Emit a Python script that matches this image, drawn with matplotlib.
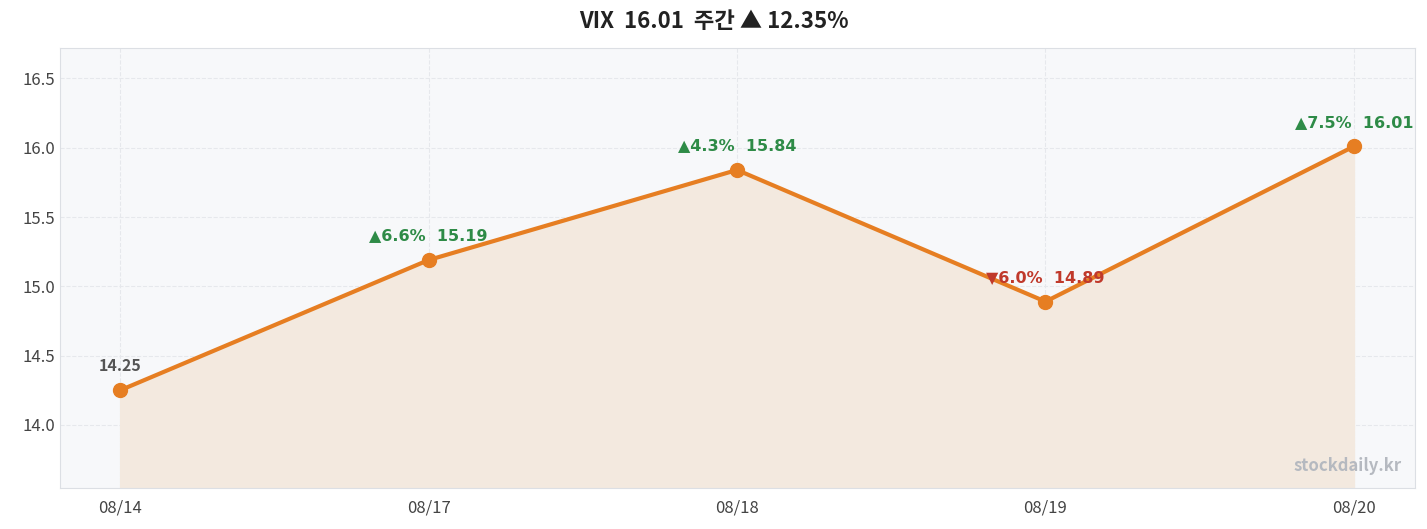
import matplotlib
matplotlib.use("Agg")
import matplotlib.pyplot as plt

plt.rcParams['font.family'] = ['Noto Sans CJK KR', 'DejaVu Sans']

dates = ["08/14", "08/17", "08/18", "08/19", "08/20"]
values = [14.25, 15.19, 15.84, 14.89, 16.01]
changes = [None, 6.6, 4.3, -6.0, 7.5]
title = "VIX  16.01  주간 ▲ 12.35%"

fig = plt.figure(figsize=(14.27, 5.29), dpi=100)
ax = fig.add_axes([60/1427, 1-488/529, 1355/1427, 440/529])
ax.set_facecolor("#f7f8fa")
x = list(range(len(values)))
ymin = 13.545
ax.fill_between(x, values, ymin, color="#f3e9df", zorder=1)
ax.plot(x, values, color="#e67e22", lw=3, marker="o", ms=10, zorder=3)
ax.set_xlim(-0.195, 4.198)
ax.set_ylim(ymin, 16.72)
ax.set_xticks(x)
ax.set_xticklabels(dates)
ax.set_yticks([14.0, 14.5, 15.0, 15.5, 16.0, 16.5])
ax.grid(True, color="#e6e8ec", ls="--", lw=0.8)
ax.set_axisbelow(True)
for s in ax.spines.values():
    s.set_color("#dcdfe4")
ax.tick_params(colors="#444", labelsize=12, length=0)
ax.tick_params(axis='x', pad=8)
for i, (v, c) in enumerate(zip(values, changes)):
    if c is None:
        txt, col = f"{v:.2f}", "#555555"
    elif c >= 0:
        txt, col = f"▲{c:.1f}%  {v:.2f}", "#2e8b47"
    else:
        txt, col = f"▼{abs(c):.1f}%  {v:.2f}", "#c0392b"
    ax.annotate(txt, (i, v), xytext=(0, 12), textcoords="offset points",
                ha="center", va="bottom", fontsize=11.5, color=col,
                family=['DejaVu Sans'] if c is not None else None, fontweight="bold")
ax.text(0.99, 0.03, "stockdaily.kr", transform=ax.transAxes, ha="right", va="bottom",
        fontsize=12, color="#b5b9c0", fontweight="bold")
fig.text(0.5, 1-22/529, title, ha="center", va="center", fontsize=16, fontweight="bold",
         color="#222")
fig.savefig("out.png", dpi=100, facecolor="white")
